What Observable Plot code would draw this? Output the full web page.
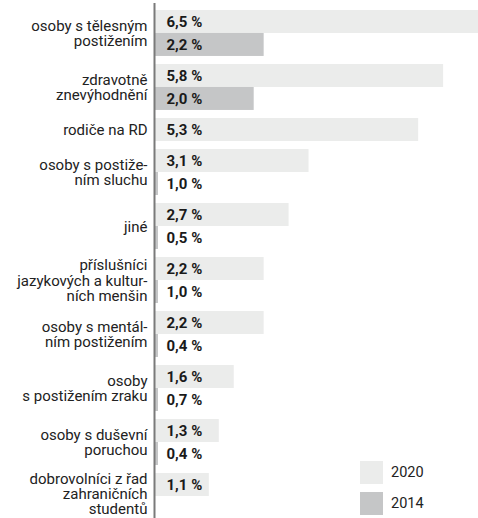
<!DOCTYPE html>
<html>
<head>
<meta charset="utf-8">
<script src="https://cdn.jsdelivr.net/npm/d3@7"></script>
<script src="https://cdn.jsdelivr.net/npm/@observablehq/plot@0.6"></script>
<style>
  html, body { margin: 0; padding: 0; background: #fff; }
  #wrap { position: relative; width: 478px; height: 518px; overflow: hidden; font-family: Roboto, "Noto Sans", sans-serif; }
  #legend { position: absolute; left: 360px; top: 461px; }
  .item { display: flex; align-items: center; height: 23px; margin-bottom: 8px; font-size: 14.5px; color: #222; }
  .sw { width: 23px; height: 23px; margin-right: 8px; }
</style>
</head>
<body>
<div id="wrap"></div>
<script>
const categories = [
  "osoby s tělesným\npostižením",
  "zdravotně\nznevýhodnění",
  "rodiče na RD",
  "osoby s postiže-\nním sluchu",
  "jiné",
  "příslušníci\njazykových a kultur-\nních menšin",
  "osoby s mentál-\nním postižením",
  "osoby\ns postižením zraku",
  "osoby s duševní\nporuchou",
  "dobrovolníci z řad\nzahraničních\nstudentů"
];
const values2020 = [6.5, 5.8, 5.3, 3.1, 2.7, 2.2, 2.2, 1.6, 1.3, 1.1];
const values2014 = [2.2, 2.0, null, 1.0, 0.5, 1.0, 0.4, 0.7, 0.4, null];
// bar lengths of 2014 as drawn in the picture (the small ones appear only as short stubs)
const bars2014 = [2.2, 2.0, null, 0.08, 0.08, 0.08, 0.08, 0.08, 0.08, null];
const series = ["2020", "2014"];
const colors = ["#ebeceb", "#c5c6c7"];

const fmt = v => d3.format(".1f")(v).replace(".", ",") + " %";

// layout in "bar units": each bar is 1 unit tall, groups separated by a gap
const gap = 0.35;
const rows = [];
const groups = [];
let u = 0;
categories.forEach((cat, i) => {
  const top = u;
  const entries = [
    {series: series[0], value: values2020[i], bar: values2020[i]},
    {series: series[1], value: values2014[i], bar: bars2014[i]}
  ];
  let n = 0;
  for (const e of entries) {
    if (e.value == null) continue;
    rows.push({cat, series: e.series, value: e.value, bar: e.bar, y1: u, y2: u + 1});
    u += 1; n += 1;
  }
  groups.push({cat, top, bottom: u, n, lines: cat.split("\n").length});
  u += gap;
});
const total = u - gap;

const midGroups = groups.filter(g => g.lines <= 2 * g.n);
const topGroups = groups.filter(g => g.lines > 2 * g.n);

const chart = Plot.plot({
  width: 478,
  height: 518,
  marginLeft: 154,
  marginRight: 0,
  marginTop: 10,
  marginBottom: 22,
  style: {fontFamily: "Roboto, 'Noto Sans', sans-serif", background: "#fff"},
  x: {domain: [0, 6.5], axis: null},
  y: {domain: [0, total], reverse: true, axis: null},
  color: {domain: series, range: colors},
  marks: [
    Plot.rect(rows.filter(d => d.bar != null), {x1: 0, x2: "bar", y1: "y1", y2: "y2", fill: "series"}),
    Plot.ruleX([0], {y1: -0.3, y2: total + 1.5, stroke: "#7a7a7a", strokeWidth: 2}),
    Plot.text(rows, {x: 0, y: d => (d.y1 + d.y2) / 2, text: d => fmt(d.value), textAnchor: "start", dx: 12, fontSize: 15, fontWeight: "bold", fill: "#1a1a1a"}),
    Plot.text(midGroups, {x: 0, y: d => (d.top + d.bottom) / 2, text: "cat", textAnchor: "end", dx: -7, fontSize: 15, lineHeight: 1.05, fill: "#222"}),
    Plot.text(topGroups, {x: 0, y: "top", text: "cat", textAnchor: "end", lineAnchor: "top", dx: -7, dy: 0, fontSize: 15, lineHeight: 1.0, fill: "#222"})
  ]
});
const wrap = document.getElementById("wrap");
wrap.appendChild(chart);

const legend = document.createElement("div");
legend.id = "legend";
series.forEach((s, i) => {
  const item = document.createElement("div");
  item.className = "item";
  const sw = document.createElement("div");
  sw.className = "sw";
  sw.style.background = colors[i];
  const lab = document.createElement("span");
  lab.textContent = s;
  item.appendChild(sw);
  item.appendChild(lab);
  legend.appendChild(item);
});
wrap.appendChild(legend);
</script>
</body>
</html>
